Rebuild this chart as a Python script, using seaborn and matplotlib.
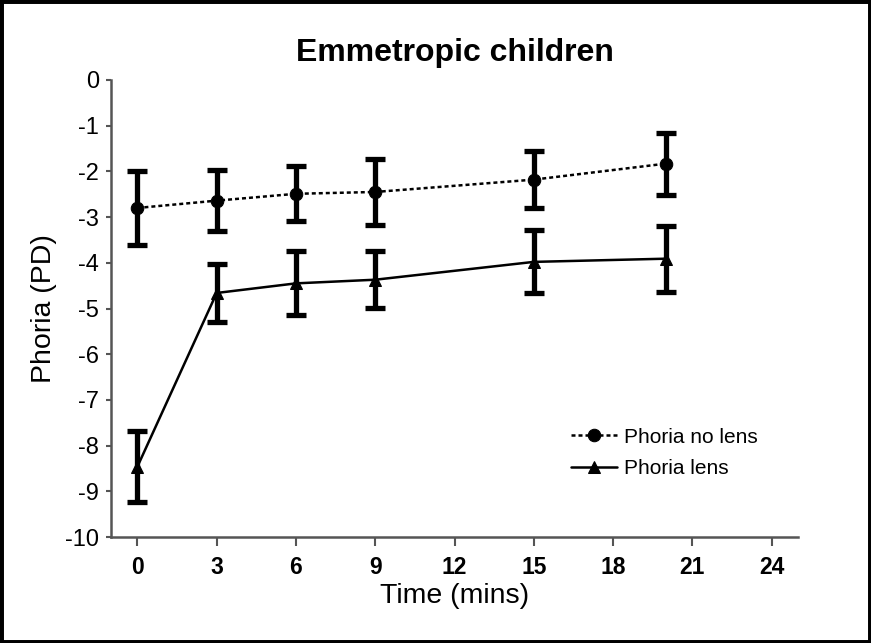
import matplotlib
matplotlib.use("Agg")
import matplotlib.pyplot as plt
import seaborn as sns
import pandas as pd
from matplotlib.patches import Rectangle

sns.set_style("white")
plt.rcParams['font.family'] = ['Liberation Sans', 'DejaVu Sans']
plt.rcParams['axes.unicode_minus'] = False
plt.rcParams['text.color'] = 'black'
plt.rcParams['axes.labelcolor'] = 'black'
plt.rcParams['xtick.labelcolor'] = 'black'
plt.rcParams['ytick.labelcolor'] = 'black'

time = [0, 3, 6, 9, 15, 20]
no_lens_mean = [-2.80, -2.64, -2.49, -2.45, -2.18, -1.83]
no_lens_err = [0.81, 0.66, 0.60, 0.72, 0.62, 0.68]
lens_mean = [-8.46, -4.66, -4.45, -4.37, -3.98, -3.91]
lens_err = [0.78, 0.64, 0.70, 0.62, 0.69, 0.72]
x_ticks = [0, 3, 6, 9, 12, 15, 18, 21, 24]
y_ticks = [0, -1, -2, -3, -4, -5, -6, -7, -8, -9, -10]

df = pd.concat([
    pd.DataFrame({"Time": time, "Phoria": no_lens_mean, "err": no_lens_err, "Series": "Phoria no lens"}),
    pd.DataFrame({"Time": time, "Phoria": lens_mean, "err": lens_err, "Series": "Phoria lens"}),
], ignore_index=True)

fig = plt.figure(figsize=(8.71, 6.43), dpi=100)
ax = fig.add_axes([111/871, 1-537/643, (798-111)/871, (537-80)/643])

spine_col = "#555555"
for name, sub in df.groupby("Series", sort=False):
    ax.errorbar(sub["Time"], sub["Phoria"], yerr=sub["err"], fmt="none",
                ecolor="black", elinewidth=3.8, capsize=7, capthick=3.8, zorder=3)

sns.lineplot(data=df, x="Time", y="Phoria", style="Series", markers={"Phoria no lens": "o", "Phoria lens": "^"},
             dashes={"Phoria no lens": (1.6, 1.2), "Phoria lens": ""}, color="black",
             linewidth=1.8, markersize=9, markeredgecolor="black", ax=ax, zorder=4, sort=False)

ax.set_xlim(-1, 25)
ax.set_ylim(-10, 0)
ax.set_xticks(x_ticks)
ax.set_yticks(y_ticks)
ax.set_xticklabels([str(t) for t in x_ticks], fontsize=16.5, fontweight="bold")
ax.set_yticklabels([str(t) for t in y_ticks], fontsize=17)
ax.tick_params(axis="x", direction="out", length=6.5, width=1.5, color=spine_col, pad=7, bottom=True)
ax.tick_params(axis="y", direction="out", length=3.5, width=1.5, color=spine_col, pad=5, left=True)
for s in ["top", "right"]:
    ax.spines[s].set_visible(False)
for s in ["left", "bottom"]:
    ax.spines[s].set_color(spine_col)
    ax.spines[s].set_linewidth(1.8)

ax.set_xlabel("Time (mins)", fontsize=20.5, labelpad=3)
ax.set_ylabel("Phoria (PD)", fontsize=20.5, labelpad=6)
ax.set_title("Emmetropic children", fontsize=23, fontweight="bold", pad=14)

leg = ax.legend(loc="upper left", bbox_to_anchor=(0.643, 0.28), frameon=False, fontsize=15,
                handlelength=2.2, handletextpad=0.3, labelspacing=0.6)

fig.patches.append(Rectangle((0, 0), 1, 1, transform=fig.transFigure, fill=False,
                             edgecolor="black", linewidth=5, zorder=10))

fig.savefig("out.png", dpi=100)
